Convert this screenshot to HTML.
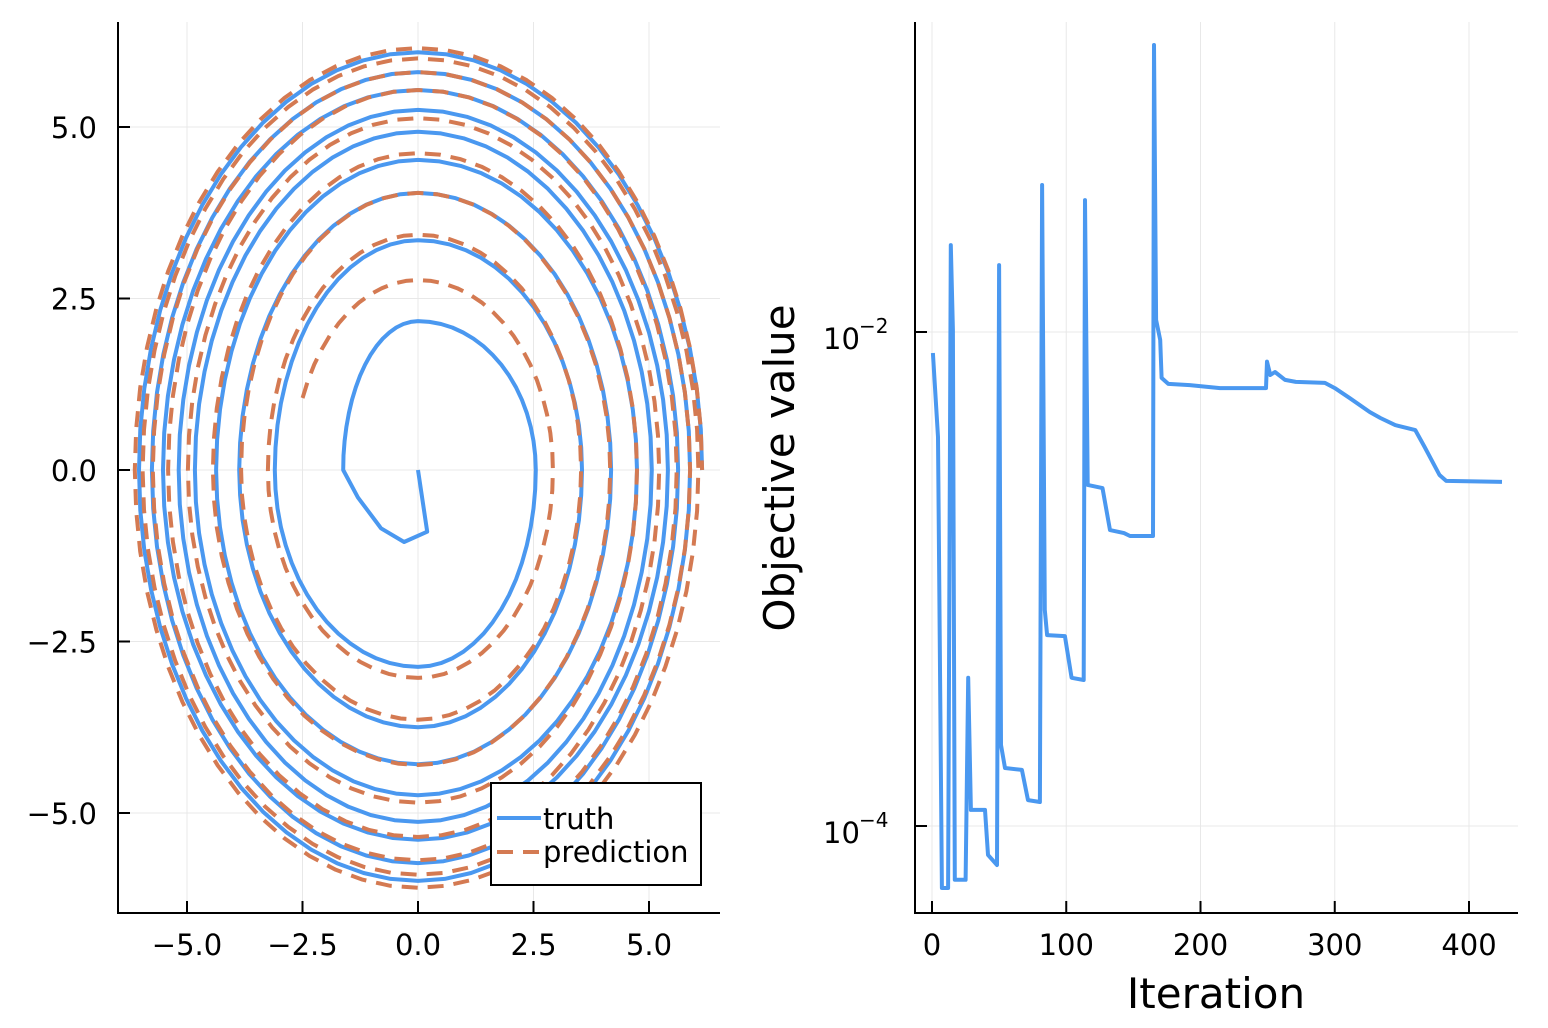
<!DOCTYPE html>
<html><head><meta charset="utf-8"><style>
html,body{margin:0;padding:0;background:#fff;}
svg{display:block;font-family:"DejaVu Sans","Liberation Sans",sans-serif;}
</style></head><body>
<svg id="fig" width="1548" height="1028" viewBox="0 0 1548 1028">
<g id="left"></g>
<g id="right"></g>
</svg>
<script>
// ---- Left panel data: spiral extrema (left, top, right, bottom order cycles) ----
const truthPrefixX = [0, 0.2, -0.3, -0.8, -1.3];
const truthPrefixY = [0, -0.9, -1.05, -0.85, -0.4];
const truthExtrema = [-1.62, 2.17, 2.55, -2.87, -3.1, 3.35, 3.55, -3.75, -3.87, 4.04, 4.18, -4.29, -4.37, 4.52, 4.74, -4.74, -4.83, 4.93, 5.06, -5.13, -5.18, 5.25, 5.41, -5.39, -5.52, 5.54, 5.63, -5.73, -5.76, 5.80, 5.89, -5.99, -6.04, 6.09, 6.15];
const predStart = [-2.5, 1.05];
const predExtrema = [-2.7, 2.77, 2.92, -3.03, -3.25, 3.43, 3.53, -3.64, -3.83, 4.04, 4.16, -4.30, -4.44, 4.62, 4.74, -4.85, -4.98, 5.13, 5.22, -5.35, -5.41, 5.54, 5.60, -5.69, -5.74, 5.80, 5.89, -5.90, -5.96, 6.00, 6.07, -6.09, -6.13, 6.15, 6.15];
const leftXTicks = [-5, -2.5, 0, 2.5, 5];
const leftXLabels = ["\u22125.0", "\u22122.5", "0.0", "2.5", "5.0"];
const leftYTicks = [5, 2.5, 0, -2.5, -5];
const leftYLabels = ["5.0", "2.5", "0.0", "\u22122.5", "\u22125.0"];
// ---- Right panel data ----
const iterations = [0.7,4.5,7.4,12,14,15.6,17,25,27,29,30.5,39.5,41.7,48.4,50,51.4,54.4,67,71.5,80.4,82,84,85.7,99,104,113,114,116,127,132.6,143,147.5,164.6,165.4,166.9,170,171,176,192,214.5,248.8,249.5,252,255.5,263,271,292.7,300,311,326,334,345,360,367,378,383,424.6];
const objectiveLog10 = [-2.085,-2.425,-4.251,-4.251,-1.648,-1.99,-4.218,-4.218,-3.40,-3.935,-3.935,-3.935,-4.117,-4.158,-1.729,-3.672,-3.765,-3.773,-3.895,-3.903,-1.405,-3.125,-3.227,-3.231,-3.40,-3.409,-1.466,-2.619,-2.632,-2.802,-2.814,-2.826,-2.826,-0.838,-1.951,-2.032,-2.186,-2.21,-2.215,-2.227,-2.227,-2.12,-2.174,-2.162,-2.194,-2.202,-2.206,-2.227,-2.267,-2.324,-2.348,-2.377,-2.397,-2.466,-2.579,-2.603,-2.607];
const rightXTicks = [0, 100, 200, 300, 400];
const rightYTicksExp = [-2, -4];

const NS = "http://www.w3.org/2000/svg";
function mk(parent, tag, attrs, text) {
  const e = document.createElementNS(NS, tag);
  for (const k in attrs) e.setAttribute(k, attrs[k]);
  if (text !== undefined) e.textContent = text;
  parent.appendChild(e);
  return e;
}
const BLUE = "#4a98f0", ORANGE = "#d47a52", GRID = "#e8e8e8";
const TF = 29;

// ---------- Left panel ----------
const L = document.getElementById('left');
const lx = v => 418 + v * 46.2;
const ly = v => 470 - v * 68.6;
for (let i = 0; i < leftXTicks.length; i++) {
  const g = mk(L, 'line', {x1: lx(leftXTicks[i]), x2: lx(leftXTicks[i]), y1: 22, y2: 913, stroke: GRID, 'stroke-width': 1});
  
  
  const t = mk(L, 'text', {x: lx(leftXTicks[i]), y: 955, 'font-size': TF, 'text-anchor': 'middle', fill: '#000'}, leftXLabels[i]);
  
  
  mk(L, 'line', {x1: lx(leftXTicks[i]), x2: lx(leftXTicks[i]), y1: 913, y2: 901, stroke: '#000', 'stroke-width': 2});
}
for (let i = 0; i < leftYTicks.length; i++) {
  const g = mk(L, 'line', {x1: 118, x2: 720, y1: ly(leftYTicks[i]), y2: ly(leftYTicks[i]), stroke: GRID, 'stroke-width': 1});
  
  
  const t = mk(L, 'text', {x: 97, y: ly(leftYTicks[i]) + 11, 'font-size': TF, 'text-anchor': 'end', fill: '#000'}, leftYLabels[i]);
  
  
  mk(L, 'line', {x1: 118, x2: 130, y1: ly(leftYTicks[i]), y2: ly(leftYTicks[i]), stroke: '#000', 'stroke-width': 2});
}
const la = mk(L, 'path', {d: 'M118,22 V913 H720', fill: 'none', stroke: '#000', 'stroke-width': 2});



function spiralPts(ext, startFrac) {
  const pts = [];
  for (let k = 0; k < ext.length - 1; k++) {
    const a = ext[k], b = ext[k + 1];
    const phase = k % 4;
    const N = 16;
    const s0 = (k === 0 && startFrac) ? Math.round(startFrac * N) : 0;
    for (let j = s0; j <= N; j++) {
      const t = j / N * Math.PI / 2;
      let x, y;
      if (phase === 0 || phase === 2) { x = a * Math.cos(t); y = b * Math.sin(t); }
      else { x = b * Math.sin(t); y = a * Math.cos(t); }
      pts.push([x, y]);
    }
  }
  return pts;
}
let tp = truthPrefixX.map((x, i) => [x, truthPrefixY[i]]).concat(spiralPts(truthExtrema, 0));
const truthPath = mk(L, 'path', {d: 'M' + tp.map(p => lx(p[0]).toFixed(1) + ',' + ly(p[1]).toFixed(1)).join(' L'), fill: 'none', stroke: BLUE, 'stroke-width': 4, 'stroke-linejoin': 'round'});


let pp = [predStart].concat(spiralPts(predExtrema, 0.25));
const predPath = mk(L, 'path', {d: 'M' + pp.map(p => lx(p[0]).toFixed(1) + ',' + ly(p[1]).toFixed(1)).join(' L'), fill: 'none', stroke: ORANGE, 'stroke-width': 4, 'stroke-dasharray': '16,10', 'stroke-linejoin': 'round'});



const lg = mk(L, 'g', {});


mk(lg, 'rect', {x: 491, y: 783, width: 210, height: 102, fill: '#fff', stroke: '#000', 'stroke-width': 2});
mk(lg, 'line', {x1: 497, x2: 541, y1: 818, y2: 818, stroke: BLUE, 'stroke-width': 4});
const le1 = mk(lg, 'text', {x: 543, y: 829, 'font-size': 29}, 'truth');


mk(lg, 'line', {x1: 497, x2: 541, y1: 852, y2: 852, stroke: ORANGE, 'stroke-width': 4, 'stroke-dasharray': '16,10'});
const le2 = mk(lg, 'text', {x: 543, y: 862, 'font-size': 29}, 'prediction');



// ---------- Right panel ----------
const R = document.getElementById('right');
const rx = v => 932 + v * 1.3425;
const ry = lg10 => 332 - (lg10 + 2) * 247;
for (let i = 0; i < rightXTicks.length; i++) {
  const g = mk(R, 'line', {x1: rx(rightXTicks[i]), x2: rx(rightXTicks[i]), y1: 22, y2: 913, stroke: GRID, 'stroke-width': 1});
  
  
  const t = mk(R, 'text', {x: rx(rightXTicks[i]), y: 955, 'font-size': TF, 'text-anchor': 'middle'}, String(rightXTicks[i]));
  
  
  mk(R, 'line', {x1: rx(rightXTicks[i]), x2: rx(rightXTicks[i]), y1: 913, y2: 901, stroke: '#000', 'stroke-width': 2});
}
for (let i = 0; i < rightYTicksExp.length; i++) {
  const y = ry(rightYTicksExp[i]);
  const g = mk(R, 'line', {x1: 915, x2: 1518, y1: y, y2: y, stroke: GRID, 'stroke-width': 1});
  
  
  const t = mk(R, 'text', {x: 823, y: y + 17, 'font-size': TF, 'text-anchor': 'start'}, '10');
  
  
  const s = mk(R, 'text', {x: 859, y: y + 1, 'font-size': 20, 'text-anchor': 'start'}, '\u2212' + Math.abs(rightYTicksExp[i]));
  
  
  mk(R, 'line', {x1: 915, x2: 927, y1: y, y2: y, stroke: '#000', 'stroke-width': 2});
}
const ra = mk(R, 'path', {d: 'M915,22 V913 H1518', fill: 'none', stroke: '#000', 'stroke-width': 2});


const obj = mk(R, 'path', {d: 'M' + iterations.map((v, i) => rx(v).toFixed(1) + ',' + ry(objectiveLog10[i]).toFixed(1)).join(' L'), fill: 'none', stroke: BLUE, 'stroke-width': 4, 'stroke-linejoin': 'round'});


const xt = mk(R, 'text', {x: 1216, y: 1008, 'font-size': 42, 'text-anchor': 'middle'}, 'Iteration');


const yt = mk(R, 'text', {x: 0, y: 0, 'font-size': 42, 'text-anchor': 'middle', transform: 'translate(794,468) rotate(-90)'}, 'Objective value');


</script>
</body></html>
